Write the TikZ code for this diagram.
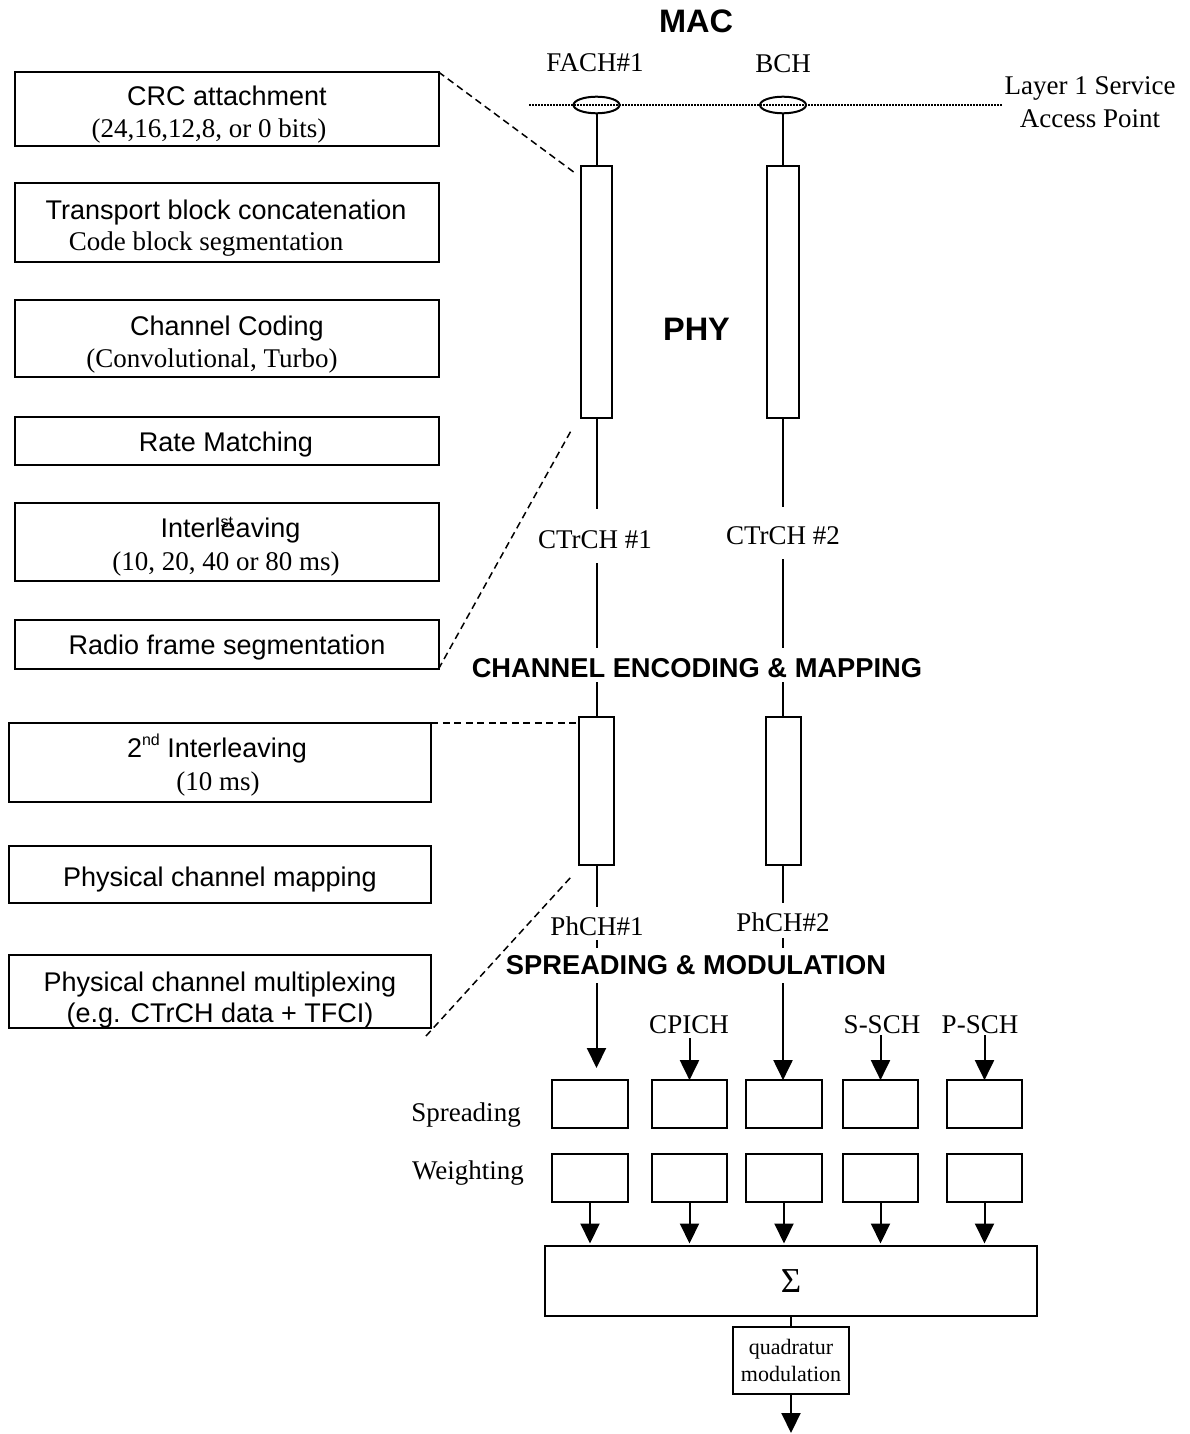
\documentclass[tikz,border=0pt]{standalone}
\usepackage{fontspec}
\setmainfont{Liberation Serif}
\setsansfont{Liberation Sans}
\usetikzlibrary{arrows.meta,shapes.geometric}

\newcommand\fsans{\sffamily\fontsize{27}{32}\selectfont}
\newcommand\fserif{\rmfamily\fontsize{27}{32}\selectfont}
\newcommand\fhead{\sffamily\bfseries\fontsize{27.3}{32}\selectfont}
\newcommand\ftitle{\sffamily\bfseries\fontsize{32.5}{38}\selectfont}
\newcommand\fsmall{\rmfamily\fontsize{22}{27}\selectfont}
\newcommand\fsigma{\rmfamily\fontsize{35}{40}\selectfont}
\newcommand\supsc[2]{\raisebox{#1}{\fontsize{16}{16}\selectfont #2}}

\begin{document}
\begin{tikzpicture}[x=1pt,y=-1pt,line width=2pt,
  every node/.style={inner sep=0pt,outer sep=0pt},
  stagebox/.style={draw,rectangle,line width=2pt},
  leftbox/.style={stagebox,minimum width=423.5pt},
  leftboxb/.style={stagebox,minimum width=422.5pt},
  sanslbl/.style={anchor=base,font=\fsans},
  seriflbl/.style={anchor=base,font=\fserif},
  heading/.style={anchor=base,font=\fhead,fill=white,inner xsep=3pt},
  leader/.style={line width=1.5pt,dash pattern=on 7pt off 4.5pt},
  arr/.style={-{Triangle[length=20pt,width=19pt]}},
  sap/.style={draw,ellipse,line width=2pt,minimum width=46pt,minimum height=16.6pt},
  spbox/.style={stagebox,minimum width=75.6pt,minimum height=47.7pt},
]
\useasboundingbox (0,0) rectangle (1189,1434);

% ---------------- processing chain (left column) ----------------
\node[leftbox,minimum height=74pt] (crc) at (226.75,109) {};
\node[sanslbl]  (crcA) at (227,106) {CRC attachment};
\node[seriflbl] (crcB) at (209,138) {(24,16,12,8, or 0 bits)};

\node[leftbox,minimum height=79pt] (tbc) at (226.75,222.5) {};
\node[sanslbl]  (tbcA) at (226,219) {Transport block concatenation};
\node[seriflbl] (tbcB) at (206,250) {Code block segmentation};

\node[leftbox,minimum height=77pt] (cc) at (226.75,338.5) {};
\node[sanslbl]  (ccA) at (227,335) {Channel Coding};
\node[seriflbl] (ccB) at (212,367) {(Convolutional, Turbo)};

\node[leftbox,minimum height=48pt] (rm) at (226.75,441) {};
\node[sanslbl]  (rmA) at (226,451) {Rate Matching};

\node[leftbox,minimum height=78pt] (ilA) at (226.75,542) {};
\node[sanslbl]  (ilAa) at (230.5,537) {Interl\rlap{\supsc{10pt}{st}}eaving};
\node[seriflbl] (ilAb) at (226,570) {(10, 20, 40 or 80 ms)};

\node[leftbox,minimum height=49pt] (rfs) at (226.75,644.5) {};
\node[sanslbl]  (rfsA) at (227,654) {Radio frame segmentation};

\node[leftboxb,minimum height=79pt] (ilB) at (220,762.5) {};
\node[sanslbl]  (ilBa) at (217,757) {2\supsc{12pt}{nd} Interleaving};
\node[seriflbl] (ilBb) at (218,790) {(10 ms)};

\node[leftboxb,minimum height=57pt] (pcm) at (220,874.5) {};
\node[sanslbl]  (pcmA) at (220,886) {Physical channel mapping};

\node[leftboxb,minimum height=73pt] (pcx) at (220,991.5) {};
\node[sanslbl]  (pcxA) at (220,991) {Physical channel multiplexing};
\node[sanslbl]  (pcxB) at (220,1022) {(e.g. CTrCH data + TFCI)};

% ---------------- MAC / service access points ----------------
\node[anchor=base,font=\ftitle] (mac) at (696,33) {MAC};
\node[seriflbl] (fachL) at (595,72) {FACH\#1};
\node[seriflbl] (bchL)  at (783,73) {BCH};
\node[seriflbl] (sapTa) at (1090,95) {Layer 1 Service};
\node[seriflbl] (sapTb) at (1090,128) {Access Point};

\coordinate (dotL) at (529,105);
\coordinate (dotR) at (1002,105);
\draw[line width=1.3pt,dash pattern=on 1.5pt off 1.5pt] (dotL) -- (dotR);
\node[sap] (sap1) at (596.5,105) {};
\node[sap] (sap2) at (783,105) {};

% ---------------- transport channel columns ----------------
\node[stagebox,minimum width=31pt,minimum height=252pt] (tr1) at (596.5,292) {};
\node[stagebox,minimum width=32pt,minimum height=252pt] (tr2) at (783,292) {};
\node[anchor=base,font=\ftitle] (phy) at (696.5,340) {PHY};

\node[seriflbl,text height=39pt,text depth=15pt] (ct1) at (595,548) {CTrCH \#1};
\node[seriflbl,text height=37pt,text depth=15pt] (ct2) at (783,544) {CTrCH \#2};

\node[stagebox,minimum width=35pt,minimum height=148pt] (lo1) at (596.5,791) {};
\node[stagebox,minimum width=35pt,minimum height=148pt] (lo2) at (783.5,791) {};

\node[seriflbl,text height=28pt,text depth=5pt] (ph1) at (597,935) {PhCH\#1};
\node[seriflbl,text height=28pt,text depth=7pt] (ph2) at (783,931) {PhCH\#2};

\draw (sap1.south) -- (sap1.south |- tr1.north);
\draw (sap2.south) -- (sap2.south |- tr2.north);
\draw (tr1.south) -- (tr1.south |- ct1.north);
\draw (tr2.south) -- (tr2.south |- ct2.north);
\draw (tr1.south |- ct1.south) -- (lo1.north);
\draw (tr2.south |- ct2.south) -- (tr2.south |- lo2.north);
\draw (lo1.south) -- (lo1.south |- ph1.north);
\draw (tr2.south |- lo2.south) -- (tr2.south |- ph2.north);

% ---------------- spreading, weighting and summation ----------------
\foreach \i/\x in {1/590,2/689.5,3/784,4/880.5,5/984.5}{
  \node[spbox] (sp\i) at (\x,1104) {};
  \node[spbox] (wt\i) at (\x,1178) {};
}
\node[seriflbl] (spL) at (466,1121) {Spreading};
\node[seriflbl] (wtL) at (468,1179) {Weighting};

\node[seriflbl,text depth=5pt] (cpich) at (689,1033) {CPICH};
\node[seriflbl,text depth=2pt] (ssch)  at (882,1033) {S-SCH};
\node[seriflbl,text depth=2pt] (psch)  at (980,1033) {P-SCH};

\coordinate (feed1) at (596.5,1068);
\draw[arr] (lo1.south |- ph1.south) -- (feed1);
\draw[arr] (tr2.south |- ph2.south) -- (tr2.south |- sp3.north);
\draw[arr] (sp2.north |- cpich.south) -- (sp2.north);
\draw[arr] (sp4.north |- ssch.south) -- (sp4.north);
\draw[arr] (sp5.north |- psch.south) -- (sp5.north);

\node[stagebox,minimum width=492pt,minimum height=70pt,font=\fsigma] (sum) at (791,1281) {Σ};
\foreach \i in {1,...,5}{
  \draw[arr,shorten >=2.5pt] (wt\i.south) -- (wt\i.south |- sum.north);
}

\node[stagebox,minimum width=116pt,minimum height=67pt,align=center,font=\fsmall] (qm) at (791,1360.5) {quadratur\\modulation};
\draw (sum.south) -- (qm.north);
\coordinate (out) at (791,1433);
\draw[arr] (qm.south) -- (out);

% ---------------- section headings (mask the channel lines) ----------------
\node[heading,text height=29pt,text depth=5pt] (encHead) at (697,677) {CHANNEL ENCODING \& MAPPING};
\node[heading,text height=26pt,text depth=9pt] (sprHead) at (696,974) {SPREADING \& MODULATION};

% ---------------- zoom leaders ----------------
\coordinate (lead1) at (575,173);
\coordinate (lead2) at (572,429);
\coordinate (lead4a) at (571,877);
\coordinate (lead4b) at (426,1036);
\draw[leader] (crc.north east) -- (lead1);
\draw[leader] (rfs.south east) -- (lead2);
\draw[leader] (ilB.north east) -- (ilB.north east -| lo1.west);
\draw[leader] (lead4b) -- (lead4a);
\end{tikzpicture}
\end{document}
